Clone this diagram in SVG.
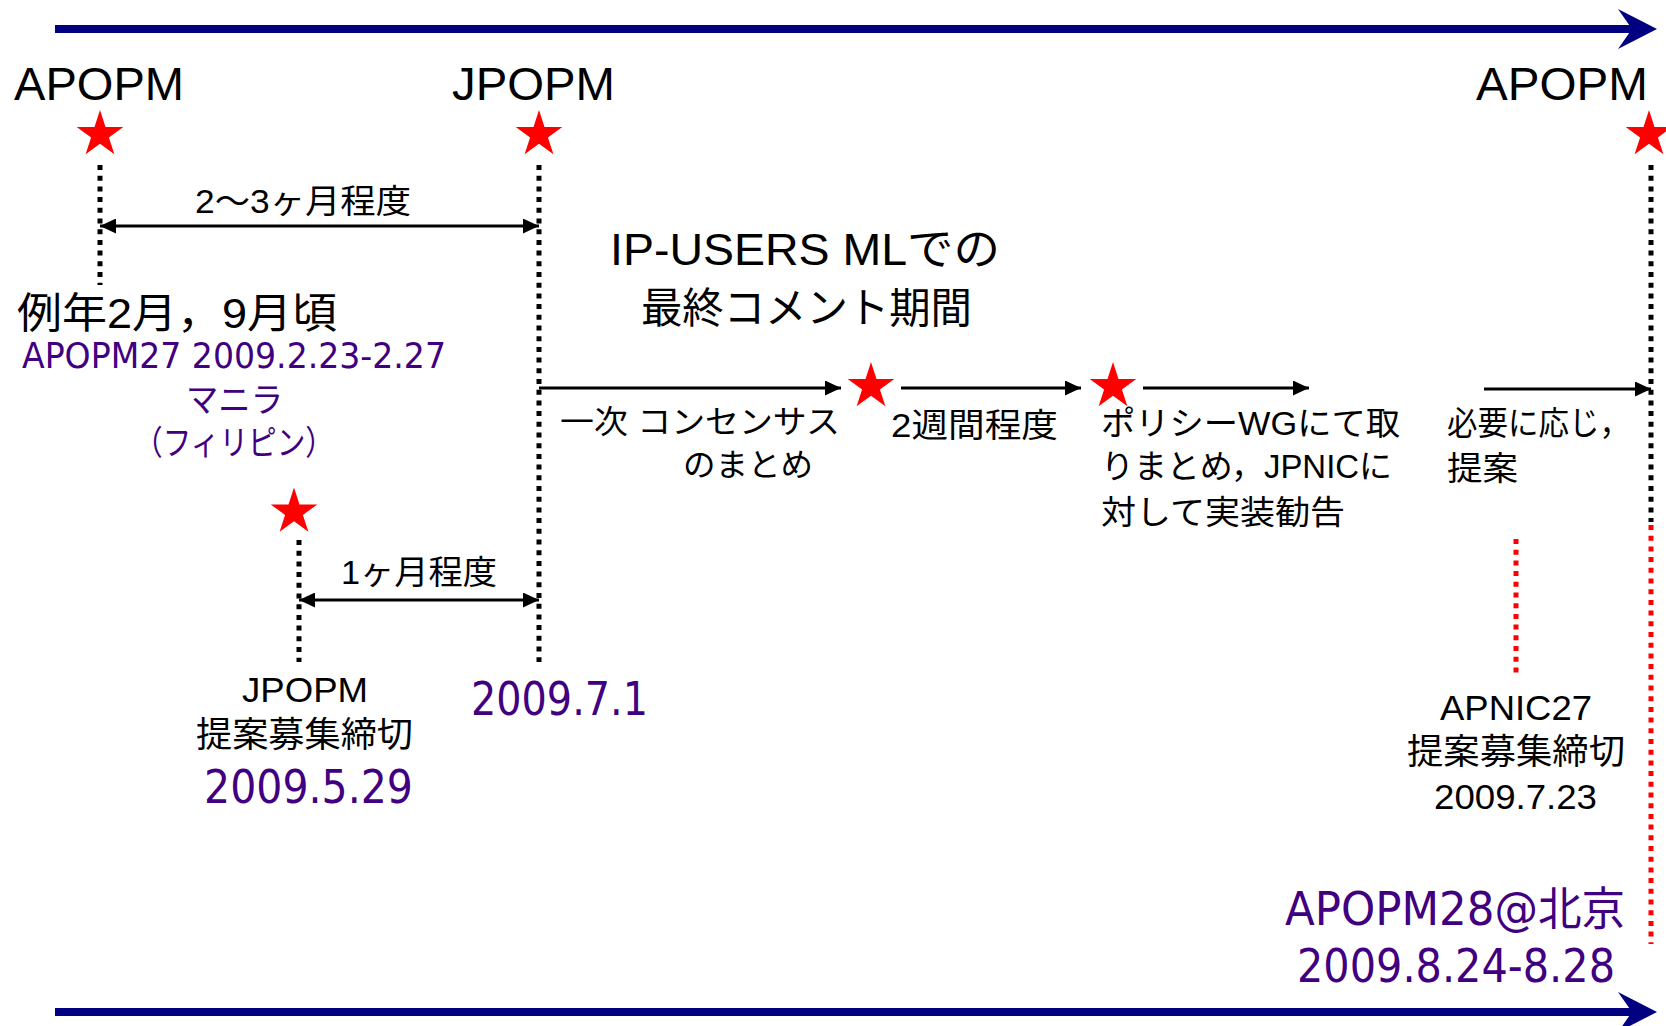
<svg xmlns="http://www.w3.org/2000/svg" xmlns:xlink="http://www.w3.org/1999/xlink" width="1666" height="1026" viewBox="0 0 1666 1026">
<style>
.t{font-family:"Liberation Sans","Noto Sans CJK JP",sans-serif;fill:#000}
.p{font-family:"DejaVu Sans","Noto Sans CJK JP",sans-serif;fill:#400080}
.dot{stroke:#000;stroke-width:5;stroke-dasharray:5 5.7;fill:none}
.rdot{stroke:#ff0000;stroke-width:5;stroke-dasharray:5 5.7;fill:none}
.ar{stroke:#000;stroke-width:3;fill:none}
.axis{stroke:#000080;stroke-width:8;fill:none}
.star{fill:#ff0000}
</style>
<defs>
<path id="star" d="M0,-24.5 L5.5,-7.57 L23.3,-7.57 L8.9,2.89 L14.4,19.82 L0,9.36 L-14.4,19.82 L-8.9,2.89 L-23.3,-7.57 L-5.5,-7.57 Z"/>
<marker id="ah" markerUnits="userSpaceOnUse" markerWidth="16" markerHeight="15" refX="16" refY="7.5" orient="auto-start-reverse">
<path d="M0,0 L16,7.5 L0,15 Z" fill="#000"/>
</marker>
</defs>

<g id="timeline-top">
<line class="axis" x1="55" y1="29" x2="1636" y2="29"/>
<polygon points="1618,9 1657,29 1618,49 1632,29" fill="#000080"/>
</g>
<g id="timeline-bottom">
<line class="axis" x1="55" y1="1012" x2="1636" y2="1012"/>
<polygon points="1618,992 1657,1012 1618,1032 1632,1012" fill="#000080"/>
</g>

<g id="connectors">
<line class="dot" x1="100" y1="165" x2="100" y2="285"/>
<line class="dot" x1="539" y1="165" x2="539" y2="662"/>
<line class="dot" x1="299" y1="540" x2="299" y2="662"/>
<line class="dot" x1="1651" y1="165" x2="1651" y2="522"/>
<line class="rdot" x1="1651" y1="525" x2="1651" y2="944"/>
<line class="rdot" x1="1516" y1="539" x2="1516" y2="674"/>
<line class="ar" x1="100" y1="226" x2="539" y2="226" marker-start="url(#ah)" marker-end="url(#ah)"/>
<line class="ar" x1="299" y1="600" x2="539" y2="600" marker-start="url(#ah)" marker-end="url(#ah)"/>
<line class="ar" x1="539" y1="388" x2="841" y2="388" marker-end="url(#ah)"/>
<line class="ar" x1="901" y1="388" x2="1081" y2="388" marker-end="url(#ah)"/>
<line class="ar" x1="1143" y1="388" x2="1309" y2="388" marker-end="url(#ah)"/>
<line class="ar" x1="1484" y1="389" x2="1651" y2="389" marker-end="url(#ah)"/>
</g>

<g id="apopm27">
<text class="t" x="14" y="100" font-size="47" textLength="170" lengthAdjust="spacingAndGlyphs">APOPM</text>
<use class="star" xlink:href="#star" href="#star" x="100" y="134.5"/>
<text class="t" x="17" y="328" font-size="42" textLength="320" lengthAdjust="spacingAndGlyphs">例年2月，9月頃</text>
<text class="p" x="22" y="368" font-size="35" textLength="424" lengthAdjust="spacingAndGlyphs">APOPM27 2009.2.23-2.27</text>
<text class="p" x="186" y="412" font-size="34" textLength="97" lengthAdjust="spacingAndGlyphs">マニラ</text>
<text class="p" x="134" y="455" font-size="34" textLength="200" lengthAdjust="spacingAndGlyphs">（フィリピン）</text>
</g>

<g id="jpopm">
<text class="t" x="452" y="100" font-size="47" textLength="163" lengthAdjust="spacingAndGlyphs">JPOPM</text>
<use class="star" xlink:href="#star" href="#star" x="539" y="134.5"/>
<text class="p" x="471" y="715" font-size="46" textLength="177" lengthAdjust="spacingAndGlyphs">2009.7.1</text>
</g>

<g id="apopm28">
<text class="t" x="1476" y="100" font-size="47" textLength="172" lengthAdjust="spacingAndGlyphs">APOPM</text>
<use class="star" xlink:href="#star" href="#star" x="1649" y="134.5"/>
<text class="p" x="1285" y="925" font-size="46" textLength="340" lengthAdjust="spacingAndGlyphs">APOPM28@北京</text>
<text class="p" x="1297" y="982" font-size="46" textLength="318" lengthAdjust="spacingAndGlyphs">2009.8.24-8.28</text>
</g>

<g id="label-2-3months">
<text class="t" x="195" y="213" font-size="33" textLength="216" lengthAdjust="spacingAndGlyphs">2〜3ヶ月程度</text>
</g>

<g id="jpopm-deadline">
<use class="star" xlink:href="#star" href="#star" x="294" y="512"/>
<text class="t" x="341" y="584" font-size="33" textLength="156" lengthAdjust="spacingAndGlyphs">1ヶ月程度</text>
<text class="t" x="242" y="702" font-size="35" textLength="126" lengthAdjust="spacingAndGlyphs">JPOPM</text>
<text class="t" x="196" y="747" font-size="35" textLength="217" lengthAdjust="spacingAndGlyphs">提案募集締切</text>
<text class="p" x="204" y="803" font-size="46" textLength="209" lengthAdjust="spacingAndGlyphs">2009.5.29</text>
</g>

<g id="final-comment">
<text class="t" x="610" y="265" font-size="44" textLength="390" lengthAdjust="spacingAndGlyphs">IP-USERS MLでの</text>
<text class="t" x="641" y="323" font-size="42" textLength="331" lengthAdjust="spacingAndGlyphs">最終コメント期間</text>
</g>

<g id="consensus">
<text class="t" x="560" y="433" font-size="32" textLength="280" lengthAdjust="spacingAndGlyphs">一次 コンセンサス</text>
<text class="t" x="683" y="476" font-size="32" textLength="130" lengthAdjust="spacingAndGlyphs">のまとめ</text>
</g>

<g id="two-weeks">
<use class="star" xlink:href="#star" href="#star" x="871" y="386.5"/>
<text class="t" x="891" y="437" font-size="33" textLength="167" lengthAdjust="spacingAndGlyphs">2週間程度</text>
</g>

<g id="policy-wg">
<use class="star" xlink:href="#star" href="#star" x="1113" y="386.5"/>
<text class="t" x="1101" y="435" font-size="33" textLength="299" lengthAdjust="spacingAndGlyphs">ポリシーWGにて取</text>
<text class="t" x="1101" y="478" font-size="33" textLength="291" lengthAdjust="spacingAndGlyphs">りまとめ，JPNICに</text>
<text class="t" x="1101" y="524" font-size="33" textLength="244" lengthAdjust="spacingAndGlyphs">対して実装勧告</text>
</g>

<g id="proposal">
<text class="t" x="1447" y="435" font-size="33" textLength="183" lengthAdjust="spacingAndGlyphs">必要に応じ，</text>
<text class="t" x="1447" y="480" font-size="33" textLength="71" lengthAdjust="spacingAndGlyphs">提案</text>
</g>

<g id="apnic-deadline">
<text class="t" x="1440" y="720" font-size="35" textLength="152" lengthAdjust="spacingAndGlyphs">APNIC27</text>
<text class="t" x="1407" y="764" font-size="35" textLength="218" lengthAdjust="spacingAndGlyphs">提案募集締切</text>
<text class="t" x="1434" y="809" font-size="35" textLength="163" lengthAdjust="spacingAndGlyphs">2009.7.23</text>
</g>
</svg>
